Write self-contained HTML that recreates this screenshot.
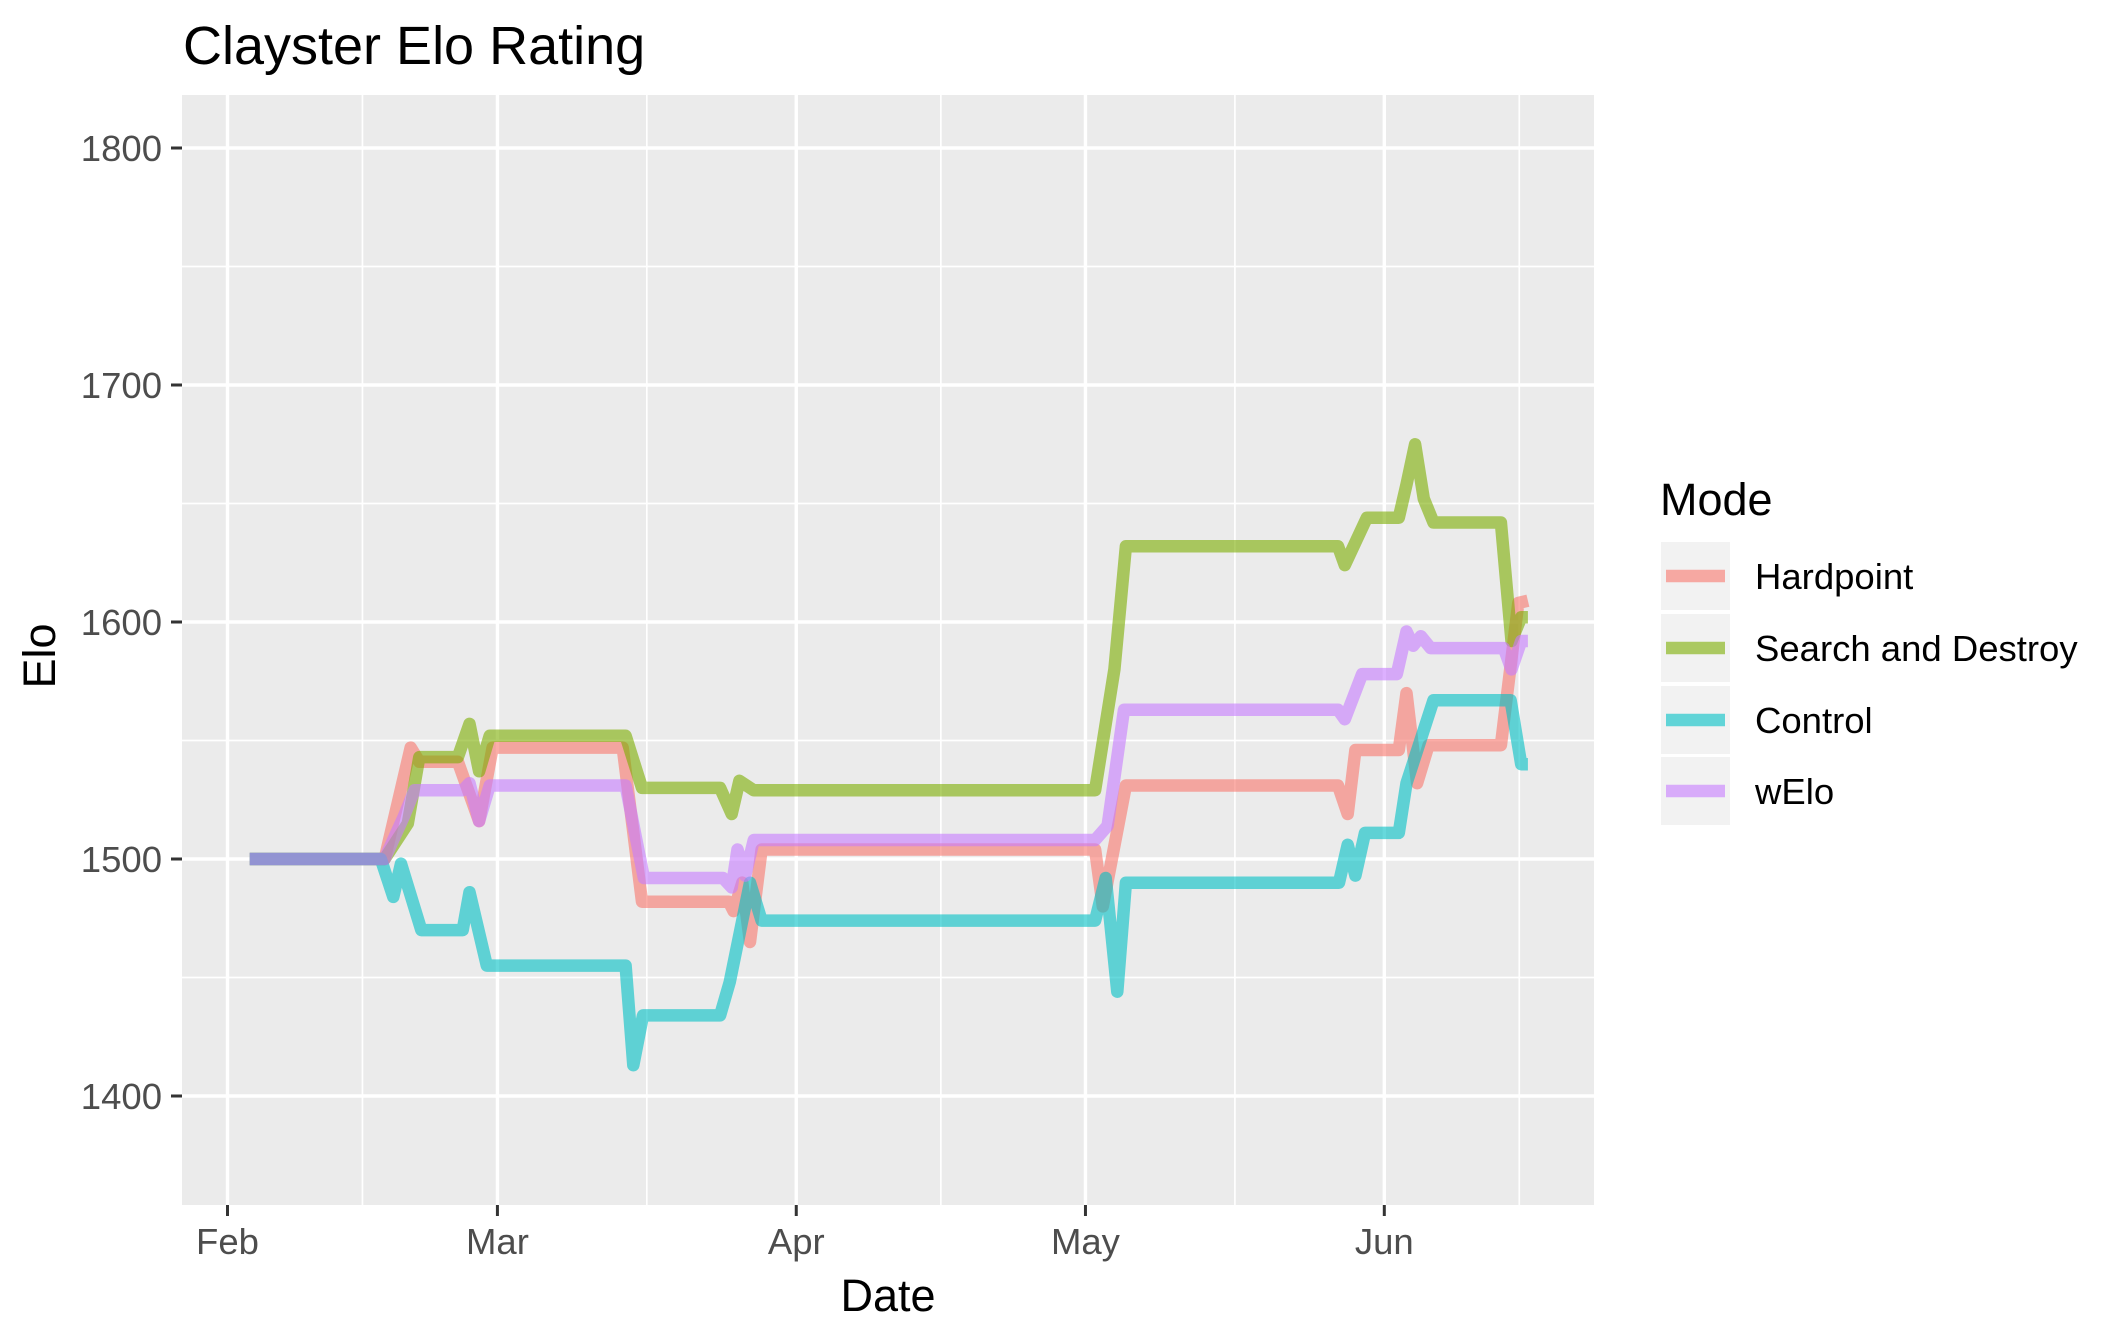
<!DOCTYPE html>
<html><head><meta charset="utf-8"><title>Clayster Elo Rating</title>
<style>
html,body{margin:0;padding:0;background:#fff;}
svg{display:block;font-family:"Liberation Sans",Arial,sans-serif;}
</style></head>
<body>
<svg id="chart" width="2125" height="1343" viewBox="0 0 2125 1343" xmlns="http://www.w3.org/2000/svg">
<text x="183" y="64" font-size="54" fill="#000">Clayster Elo Rating</text>
<g id="panel"></g>
<g id="lines"></g>
<g id="axes"></g>
<text transform="translate(55,656) rotate(-90)" text-anchor="middle" font-size="45" fill="#000">Elo</text>
<text x="888" y="1311" text-anchor="middle" font-size="45" fill="#000">Date</text>
<g id="legend">
<text x="1660" y="515" font-size="45" fill="#000">Mode</text>
</g>
</svg>
<script>
// Days since Feb 1
const yTicks = [1400, 1500, 1600, 1700, 1800];
const yMinor = [1450, 1550, 1650, 1750];
const xTickLabels = ["Feb", "Mar", "Apr", "May", "Jun"];
const xTickDays = [0, 28, 59, 89, 120];
const xMinorDays = [14, 43.5, 74, 104.5, 134];
const seriesNames = ["Hardpoint", "Search and Destroy", "Control", "wElo"];
const seriesColors = ["#F8766D", "#7CAE00", "#00BFC4", "#C77CFF"];

const hpDays = [2.3,16.3,19.0,19.9,23.9,26.1,27.5,41.0,43.0,52.0,52.5,53.4,54.2,55.4,90.0,90.8,93.2,115.2,116.2,117.0,121.5,122.3,123.4,124.6,132.1,133.9,134.9];
const hpVals = [1500,1500,1547,1541,1541,1516,1547,1547,1482,1482,1478,1490,1465,1504,1504,1480,1531,1531,1519,1546,1546,1570,1532,1548,1548,1608,1609];

const sdDays = [2.3,16.3,18.7,19.9,23.9,25.1,26.1,27.2,41.3,43.0,51.1,52.3,53.1,54.6,90.0,92.0,93.2,115.2,115.9,118.2,121.5,122.3,123.2,124.1,125.1,132.1,133.2,134.2,134.9];
const sdVals = [1500,1500,1515,1543,1543,1557,1537,1552,1552,1530,1530,1519,1533,1529,1529,1580,1632,1632,1624,1644,1644,1658,1675,1652,1642,1642,1592,1602,1602];

const ctDays = [2.3,15.9,17.2,18.0,20.1,24.4,25.1,26.9,41.3,42.1,43.1,51.1,52.1,54.2,55.4,90.0,91.1,92.3,93.2,115.3,116.2,117.0,118.0,121.5,122.3,125.1,133.1,134.2,134.9];
const ctVals = [1500,1500,1484,1498,1470,1470,1486,1455,1455,1413,1434,1434,1448,1490,1474,1474,1492,1444,1490,1490,1506,1493,1511,1511,1532,1567,1567,1540,1540];

const weDays = [2.3,16.3,18.3,19.4,24.4,25.1,26.1,27.2,41.3,43.2,51.4,52.3,52.9,53.7,54.6,90.0,91.3,93.0,115.2,115.9,117.7,121.3,122.3,123.0,123.8,124.8,132.4,133.2,134.2,134.9];
const weVals = [1500,1500,1518,1529,1529,1532,1516,1531,1531,1492,1492,1488,1504,1493,1508,1508,1514,1563,1563,1559,1578,1578,1596,1590,1594,1589,1589,1580,1592,1592];

const allDays = [hpDays, sdDays, ctDays, weDays];
const allVals = [hpVals, sdVals, ctVals, weVals];

const NS = "http://www.w3.org/2000/svg";
const PL = 182, PR = 1594, PT = 95, PB = 1205;
function xS(d){ return 227.5 + d * 9.64; }
function yS(v){ return 859 - (v - 1500) * 2.37; }
function mk(tag, attrs, parent){
  const e = document.createElementNS(NS, tag);
  for (const k in attrs) e.setAttribute(k, attrs[k]);
  parent.appendChild(e);
  return e;
}
const panel = document.getElementById("panel");
const bg = mk("rect", {x:PL, y:PT, width:PR-PL, height:PB-PT, fill:"#EBEBEB"}, panel);


yMinor.forEach(v => {
  const l = mk("line", {x1:PL, x2:PR, y1:yS(v), y2:yS(v), stroke:"#fff", "stroke-width":1.7}, panel);
  
  
});
xMinorDays.forEach(d => {
  const l = mk("line", {x1:xS(d), x2:xS(d), y1:PT, y2:PB, stroke:"#fff", "stroke-width":1.7}, panel);
  
  
});
yTicks.forEach(v => {
  const l = mk("line", {x1:PL, x2:PR, y1:yS(v), y2:yS(v), stroke:"#fff", "stroke-width":3.4}, panel);
  
  
});
xTickDays.forEach(d => {
  const l = mk("line", {x1:xS(d), x2:xS(d), y1:PT, y2:PB, stroke:"#fff", "stroke-width":3.4}, panel);
  
  
});

const lines = document.getElementById("lines");
allDays.forEach((days, i) => {
  const pts = days.map((d, j) => xS(d).toFixed(1) + "," + yS(allVals[i][j]).toFixed(1)).join(" ");
  const p = mk("polyline", {points:pts, fill:"none", stroke:seriesColors[i], "stroke-width":12.5, "stroke-opacity":0.6, "stroke-linejoin":"round", "stroke-linecap":"butt"}, lines);
  
  
});

const axes = document.getElementById("axes");
yTicks.forEach(v => {
  const t = mk("line", {x1:171, x2:PL, y1:yS(v), y2:yS(v), stroke:"#333", "stroke-width":3}, axes);
  
  
  const tx = mk("text", {x:162, y:yS(v)+13, "text-anchor":"end", "font-size":36.5, fill:"#4D4D4D"}, axes);
  tx.textContent = String(v);
  
  
});
xTickDays.forEach((d, i) => {
  const t = mk("line", {x1:xS(d), x2:xS(d), y1:PB, y2:PB+11, stroke:"#333", "stroke-width":3}, axes);
  
  
  const tx = mk("text", {x:xS(d), y:1254, "text-anchor":"middle", "font-size":36.5, fill:"#4D4D4D"}, axes);
  tx.textContent = xTickLabels[i];
  
  
});

const legend = document.getElementById("legend");
const keyTops = [542, 614, 686, 757];
seriesNames.forEach((n, i) => {
  const kb = mk("rect", {x:1661, y:keyTops[i], width:69, height:68, fill:"#F2F2F2"}, legend);
  
  
  const kl = mk("line", {x1:1666, x2:1725, y1:keyTops[i]+34, y2:keyTops[i]+34, stroke:seriesColors[i], "stroke-width":12.5, "stroke-opacity":0.6}, legend);
  
  
  const tx = mk("text", {x:1755, y:keyTops[i]+47, "font-size":36.5, fill:"#000"}, legend);
  tx.textContent = n;
  
  
});
</script>
</body></html>
